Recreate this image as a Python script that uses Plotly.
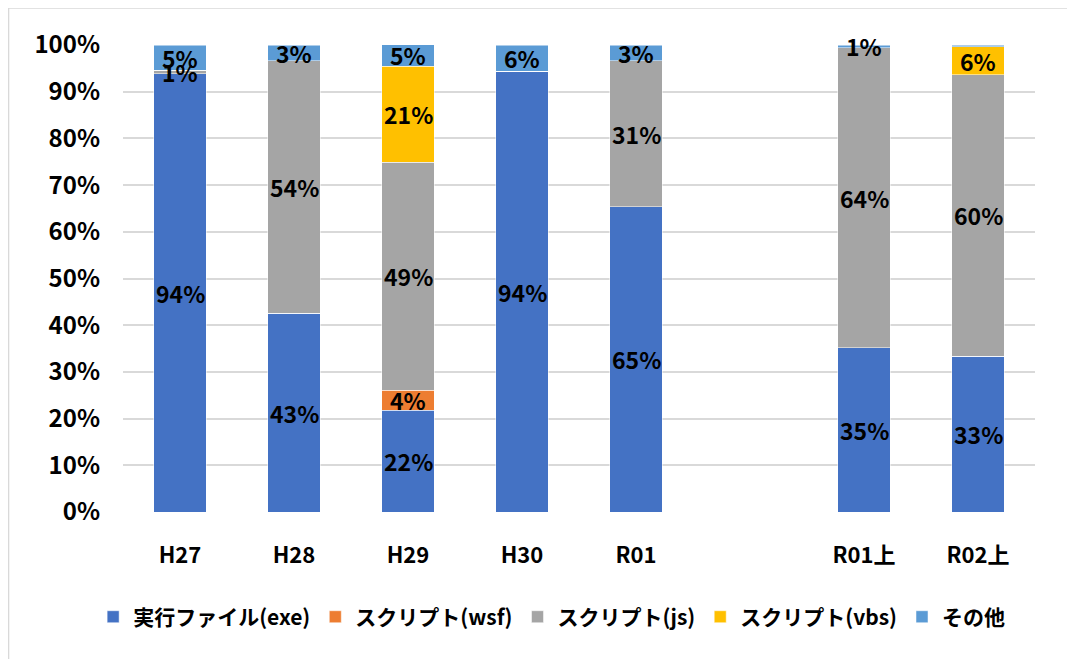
import plotly.graph_objects as go

categories = ["H27", "H28", "H29", "H30", "R01", " ", "R01上", "R02上"]
exe = [93.8, 42.6, 21.8, 94.4, 65.4, None, 35.2, 33.4]
wsf = [0, 0, 4.3, 0, 0, None, 0, 0]
js = [0.8, 54.0, 48.8, 0, 31.2, None, 64.2, 60.2]
vbs = [0, 0, 20.6, 0, 0, None, 0, 6.0]
other = [5.4, 3.4, 4.6, 5.6, 3.4, None, 0.6, 0.4]
show_label_other = [True, True, True, True, True, False, True, False]

series = [
    ("実行ファイル(exe)", exe, "#4472C4", None),
    ("スクリプト(wsf)", wsf, "#ED7D31", None),
    ("スクリプト(js)", js, "#A5A5A5", None),
    ("スクリプト(vbs)", vbs, "#FFC000", None),
    ("その他", other, "#5B9BD5", show_label_other),
]

FONT = "Noto Sans CJK JP"

fig = go.Figure()
annotations = []
base = [0.0] * len(categories)
for name, vals, color, show in series:
    fig.add_trace(go.Bar(
        name=name, x=categories, y=vals,
        marker=dict(color=color, line=dict(width=0.5, color="white")),
    ))
    for i, v in enumerate(vals):
        if v is None:
            continue
        if v > 0 and (show is None or show[i]):
            annotations.append(dict(
                x=categories[i], y=base[i] + v / 2, xref="x", yref="y",
                text=f"{round(v):.0f}%", showarrow=False,
                font=dict(family=FONT, size=23, color="black", weight="bold"),
            ))
        base[i] += v

W, H = 1067, 651
fig.update_layout(
    barmode="stack",
    bargap=0.54,
    width=W, height=H,
    margin=dict(l=115, r=40, t=37, b=147),
    plot_bgcolor="white", paper_bgcolor="white",
    font=dict(family=FONT, size=22, color="black", weight="bold"),
    showlegend=True,
    legend=dict(orientation="h", x=0.47, xanchor="center", y=-0.225, yanchor="middle",
                traceorder="normal", font=dict(family=FONT, size=21, color="black", weight="bold"),
                itemwidth=30),
    xaxis=dict(type="category", categoryorder="array", categoryarray=categories,
               showgrid=False, showline=False, ticks="", ticklabelstandoff=28,
               tickfont=dict(size=22, weight="bold")),
    yaxis=dict(range=[0, 100], dtick=10, ticksuffix="%", showgrid=True, gridcolor="#D9D9D9",
               gridwidth=1.5, zeroline=False, showline=False, ticks="", ticklabelstandoff=22,
               tickfont=dict(size=24, weight="bold")),
    annotations=annotations,
    shapes=[dict(type="rect", xref="paper", yref="paper", x0=-0.1255, x1=1.2, y0=-0.5, y1=1.0792,
                 line=dict(color="#D9D9D9", width=1.5))],
)

fig.write_html("out.html")
